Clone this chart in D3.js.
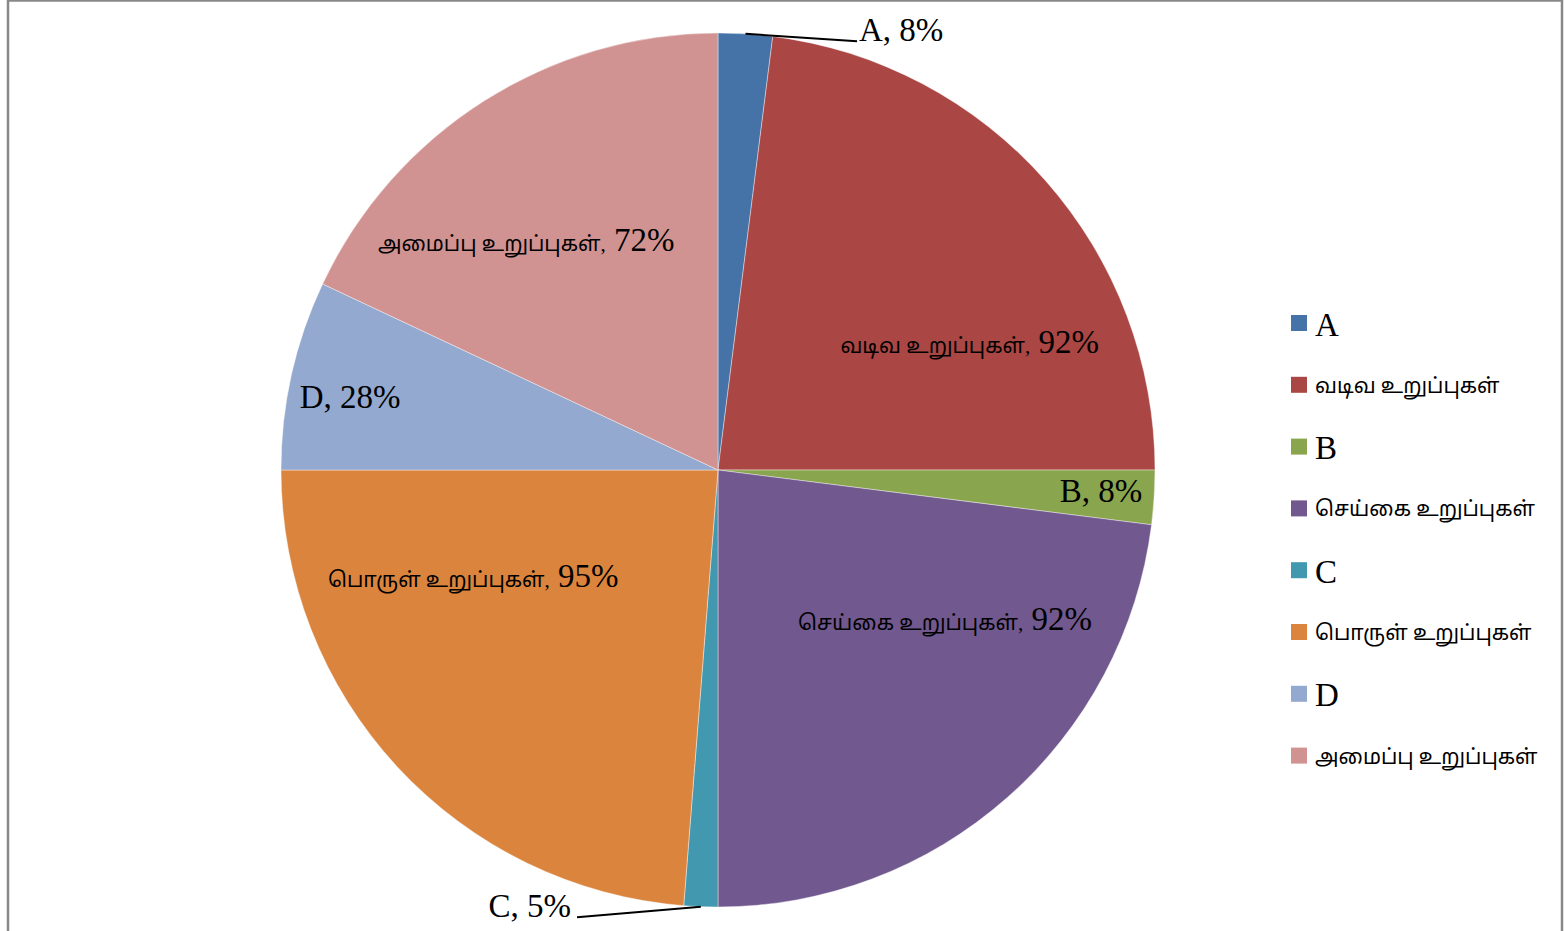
<!DOCTYPE html>
<html>
<head>
<meta charset="utf-8">
<script src="https://cdn.jsdelivr.net/npm/d3@7"></script>
<style>
  body { margin: 0; background: #fff; }
  .lbl { font-family: "Liberation Serif", "Noto Sans Tamil", "Lohit Tamil", serif; fill: #000; }
</style>
</head>
<body>
<div id="chart"></div>
<script>
// Chart data
var categories = ["A", "வடிவ உறுப்புகள்", "B", "செய்கை உறுப்புகள்", "C", "பொருள் உறுப்புகள்", "D", "அமைப்பு உறுப்புகள்"];
var values = [8, 92, 8, 92, 5, 95, 28, 72];
var colors = ["#4572A7", "#AA4643", "#89A54E", "#71588F", "#4198AF", "#DB843D", "#93A9CF", "#D19392"];

// label placement: [angle in degrees from top, radius fraction, anchor]
var labelPos = [
  [17.9, 1.05, "start"],
  [63.6, 0.643, "middle"],
  [93.6, 0.878, "middle"],
  [123.8, 0.625, "middle"],
  [198.5, 1.06, "end"],
  [246, 0.613, "middle"],
  [280.8, 0.857, "middle"],
  [319.8, 0.68, "middle"]
];

var svgWidth = 1564;
var svgHeight = 931;
var cx = 718, cy = 470, radius = 437;
var latinSize = 33, tamilSize = 21;

var svg = d3.select("#chart")
  .append("svg")
  .attr("width", svgWidth)
  .attr("height", svgHeight);

// outer frame
svg.append("rect")
  .attr("x", 8)
  .attr("y", 0.5)
  .attr("width", 1554)
  .attr("height", 960)
  .attr("fill", "#fff")
  .attr("stroke", "#888")
  .attr("stroke-width", 2.5);

var data = categories.map(function(c, i) {
  return { name: c, value: values[i], color: colors[i], pos: labelPos[i] };
});

var isTamil = s => /[\u0B80-\u0BFF]/.test(s);

var pie = d3.pie().sort(null).value(d => d.value);
var arc = d3.arc().innerRadius(0).outerRadius(radius);
var arcs = pie(data);

var pieGroup = svg.append("g")
  .attr("transform", `translate(${cx}, ${cy})`);

pieGroup.selectAll("path")
  .data(arcs)
  .enter()
  .append("path")
  .attr("d", arc)
  .attr("fill", d => d.data.color)
  .attr("stroke", "#fff")
  .attr("stroke-width", 0.4);

function polar(deg, r) {
  var a = deg * Math.PI / 180;
  return [Math.sin(a) * r, -Math.cos(a) * r];
}

// leader lines for outside labels
arcs.forEach(function(d) {
  var p = d.data.pos;
  if (p[1] > 1) {
    var mid = (d.startAngle + d.endAngle) / 2;
    var s = [Math.sin(mid) * radius, -Math.cos(mid) * radius];
    var e = polar(p[0], radius * p[1]);
    var ex = p[2] == "start" ? e[0] - 2 : e[0] + 6;
    pieGroup.append("line")
      .attr("x1", s[0]).attr("y1", s[1])
      .attr("x2", ex).attr("y2", e[1] + (p[2] == "start" ? 8 : 8))
      .attr("stroke", "#000")
      .attr("stroke-width", 2);
  }
});

// data labels
pieGroup.selectAll("text.lbl")
  .data(arcs)
  .enter()
  .append("text")
  .classed("lbl", true)
  .attr("x", d => polar(d.data.pos[0], radius * d.data.pos[1])[0])
  .attr("y", d => polar(d.data.pos[0], radius * d.data.pos[1])[1])
  .attr("dy", "0.5em")
  .attr("text-anchor", d => d.data.pos[2])
  .each(function(d) {
    var t = d3.select(this);
    t.append("tspan")
      .style("font-size", (isTamil(d.data.name) ? tamilSize : latinSize) + "px")
      .text(d.data.name + ",");
    t.append("tspan")
      .style("font-size", latinSize + "px")
      .text(" " + d.data.value + "%");
  });

// legend
var legend = svg.append("g")
  .attr("transform", "translate(1291, 323)");

var rows = legend.selectAll("g")
  .data(data)
  .enter()
  .append("g")
  .attr("transform", (d, i) => `translate(0, ${i * 61.8})`);

rows.append("rect")
  .attr("x", 0)
  .attr("y", -8)
  .attr("width", 16)
  .attr("height", 16)
  .attr("fill", d => d.color);

rows.append("text")
  .classed("lbl", true)
  .attr("x", 24)
  .attr("dy", "0.38em")
  .style("font-size", d => (isTamil(d.name) ? tamilSize : latinSize) + "px")
  .text(d => d.name);
</script>
</body>
</html>
